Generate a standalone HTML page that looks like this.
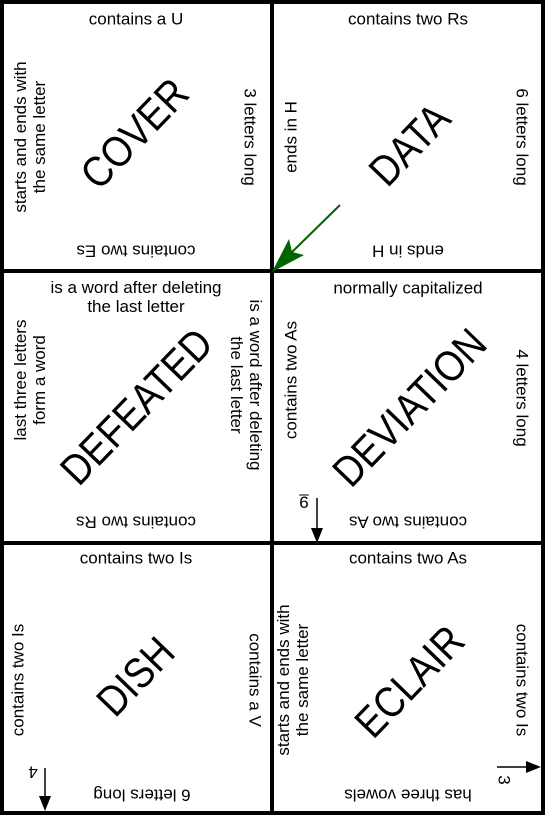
<!DOCTYPE html>
<html><head><meta charset="utf-8"><style>
body{margin:0;width:545px;height:815px;background:#fff;position:relative;overflow:hidden;font-family:"Liberation Sans",sans-serif;}
.l{position:absolute;transform:translate(-50%,-50%) rotate(var(--r,0deg));font-size:17px;line-height:19px;text-align:center;white-space:nowrap;color:#000;}
.b{font-size:43px;line-height:44px;transform:translate(-50%,-50%) rotate(-46deg) scaleX(0.87);}
.ln{position:absolute;background:#000;}
</style></head><body>
<div class="ln" style="left:0;top:0;width:545px;height:4px"></div>
<div class="ln" style="left:0;top:811px;width:545px;height:4px"></div>
<div class="ln" style="left:0;top:0;width:4px;height:815px"></div>
<div class="ln" style="left:541px;top:0;width:4px;height:815px"></div>
<div class="ln" style="left:270px;top:0;width:4px;height:815px"></div>
<div class="ln" style="left:0;top:269px;width:545px;height:4px"></div>
<div class="ln" style="left:0;top:541px;width:545px;height:4px"></div>

<!-- cell 1 -->
<div class="l" style="left:136px;top:19px">contains a U</div>
<div class="l" style="left:136px;top:251px;--r:180deg">contains two Es</div>
<div class="l" style="left:30px;top:137px;--r:-90deg">starts and ends with<br>the same letter</div>
<div class="l" style="left:250px;top:137px;--r:90deg">3 letters long</div>
<div class="l b" style="left:135px;top:134px">COVER</div>
<!-- cell 2 -->
<div class="l" style="left:408px;top:19px">contains two Rs</div>
<div class="l" style="left:408px;top:251px;--r:180deg">ends in H</div>
<div class="l" style="left:291px;top:137px;--r:-90deg">ends in H</div>
<div class="l" style="left:522px;top:137px;--r:90deg">6 letters long</div>
<div class="l b" style="left:410px;top:145px">DATA</div>
<!-- cell 3 -->
<div class="l" style="left:136px;top:297px">is a word after deleting<br>the last letter</div>
<div class="l" style="left:136px;top:522px;--r:180deg">contains two Rs</div>
<div class="l" style="left:30px;top:380px;--r:-90deg">last three letters<br>form a word</div>
<div class="l" style="left:246px;top:385px;--r:90deg">is a word after deleting<br>the last letter</div>
<div class="l b" style="left:137px;top:407px">DEFEATED</div>
<!-- cell 4 -->
<div class="l" style="left:408px;top:288px">normally capitalized</div>
<div class="l" style="left:408px;top:522px;--r:180deg">contains two As</div>
<div class="l" style="left:291px;top:380px;--r:-90deg">contains two As</div>
<div class="l" style="left:522px;top:398px;--r:90deg">4 letters long</div>
<div class="l b" style="left:410px;top:408px">DEVIATION</div>
<!-- cell 5 -->
<div class="l" style="left:136px;top:558px">contains two Is</div>
<div class="l" style="left:142px;top:795px;--r:180deg">6 letters long</div>
<div class="l" style="left:18px;top:680px;--r:-90deg">contains two Is</div>
<div class="l" style="left:255px;top:680px;--r:90deg">contains a V</div>
<div class="l b" style="left:136px;top:677px">DISH</div>
<!-- cell 6 -->
<div class="l" style="left:408px;top:558px">contains two As</div>
<div class="l" style="left:408px;top:795px;--r:180deg">has three vowels</div>
<div class="l" style="left:293px;top:680px;--r:-90deg">starts and ends with<br>the same letter</div>
<div class="l" style="left:522px;top:680px;--r:90deg">contains two Is</div>
<div class="l b" style="left:410px;top:682px">ECLAIR</div>

<div class="l" style="left:304px;top:502px;--r:180deg;text-decoration:underline">9</div>
<div class="l" style="left:33px;top:772px;--r:180deg">4</div>
<div class="l" style="left:504px;top:780px;--r:90deg">3</div>

<svg width="545" height="815" style="position:absolute;left:0;top:0">
<line x1="340" y1="205" x2="290" y2="254" stroke="#006400" stroke-width="2"/>
<polygon points="272,272 289,239 292,252 304,255" fill="#006400"/>
<line x1="317" y1="498" x2="317" y2="530" stroke="#000" stroke-width="1.5"/>
<polygon points="311,528 323,528 317,543" fill="#000"/>
<line x1="45" y1="768" x2="45" y2="798" stroke="#000" stroke-width="1.5"/>
<polygon points="39,796 51,796 45,811" fill="#000"/>
<line x1="497" y1="767" x2="528" y2="767" stroke="#000" stroke-width="1.5"/>
<polygon points="526,761 526,773 541,767" fill="#000"/>
</svg>
</body></html>
